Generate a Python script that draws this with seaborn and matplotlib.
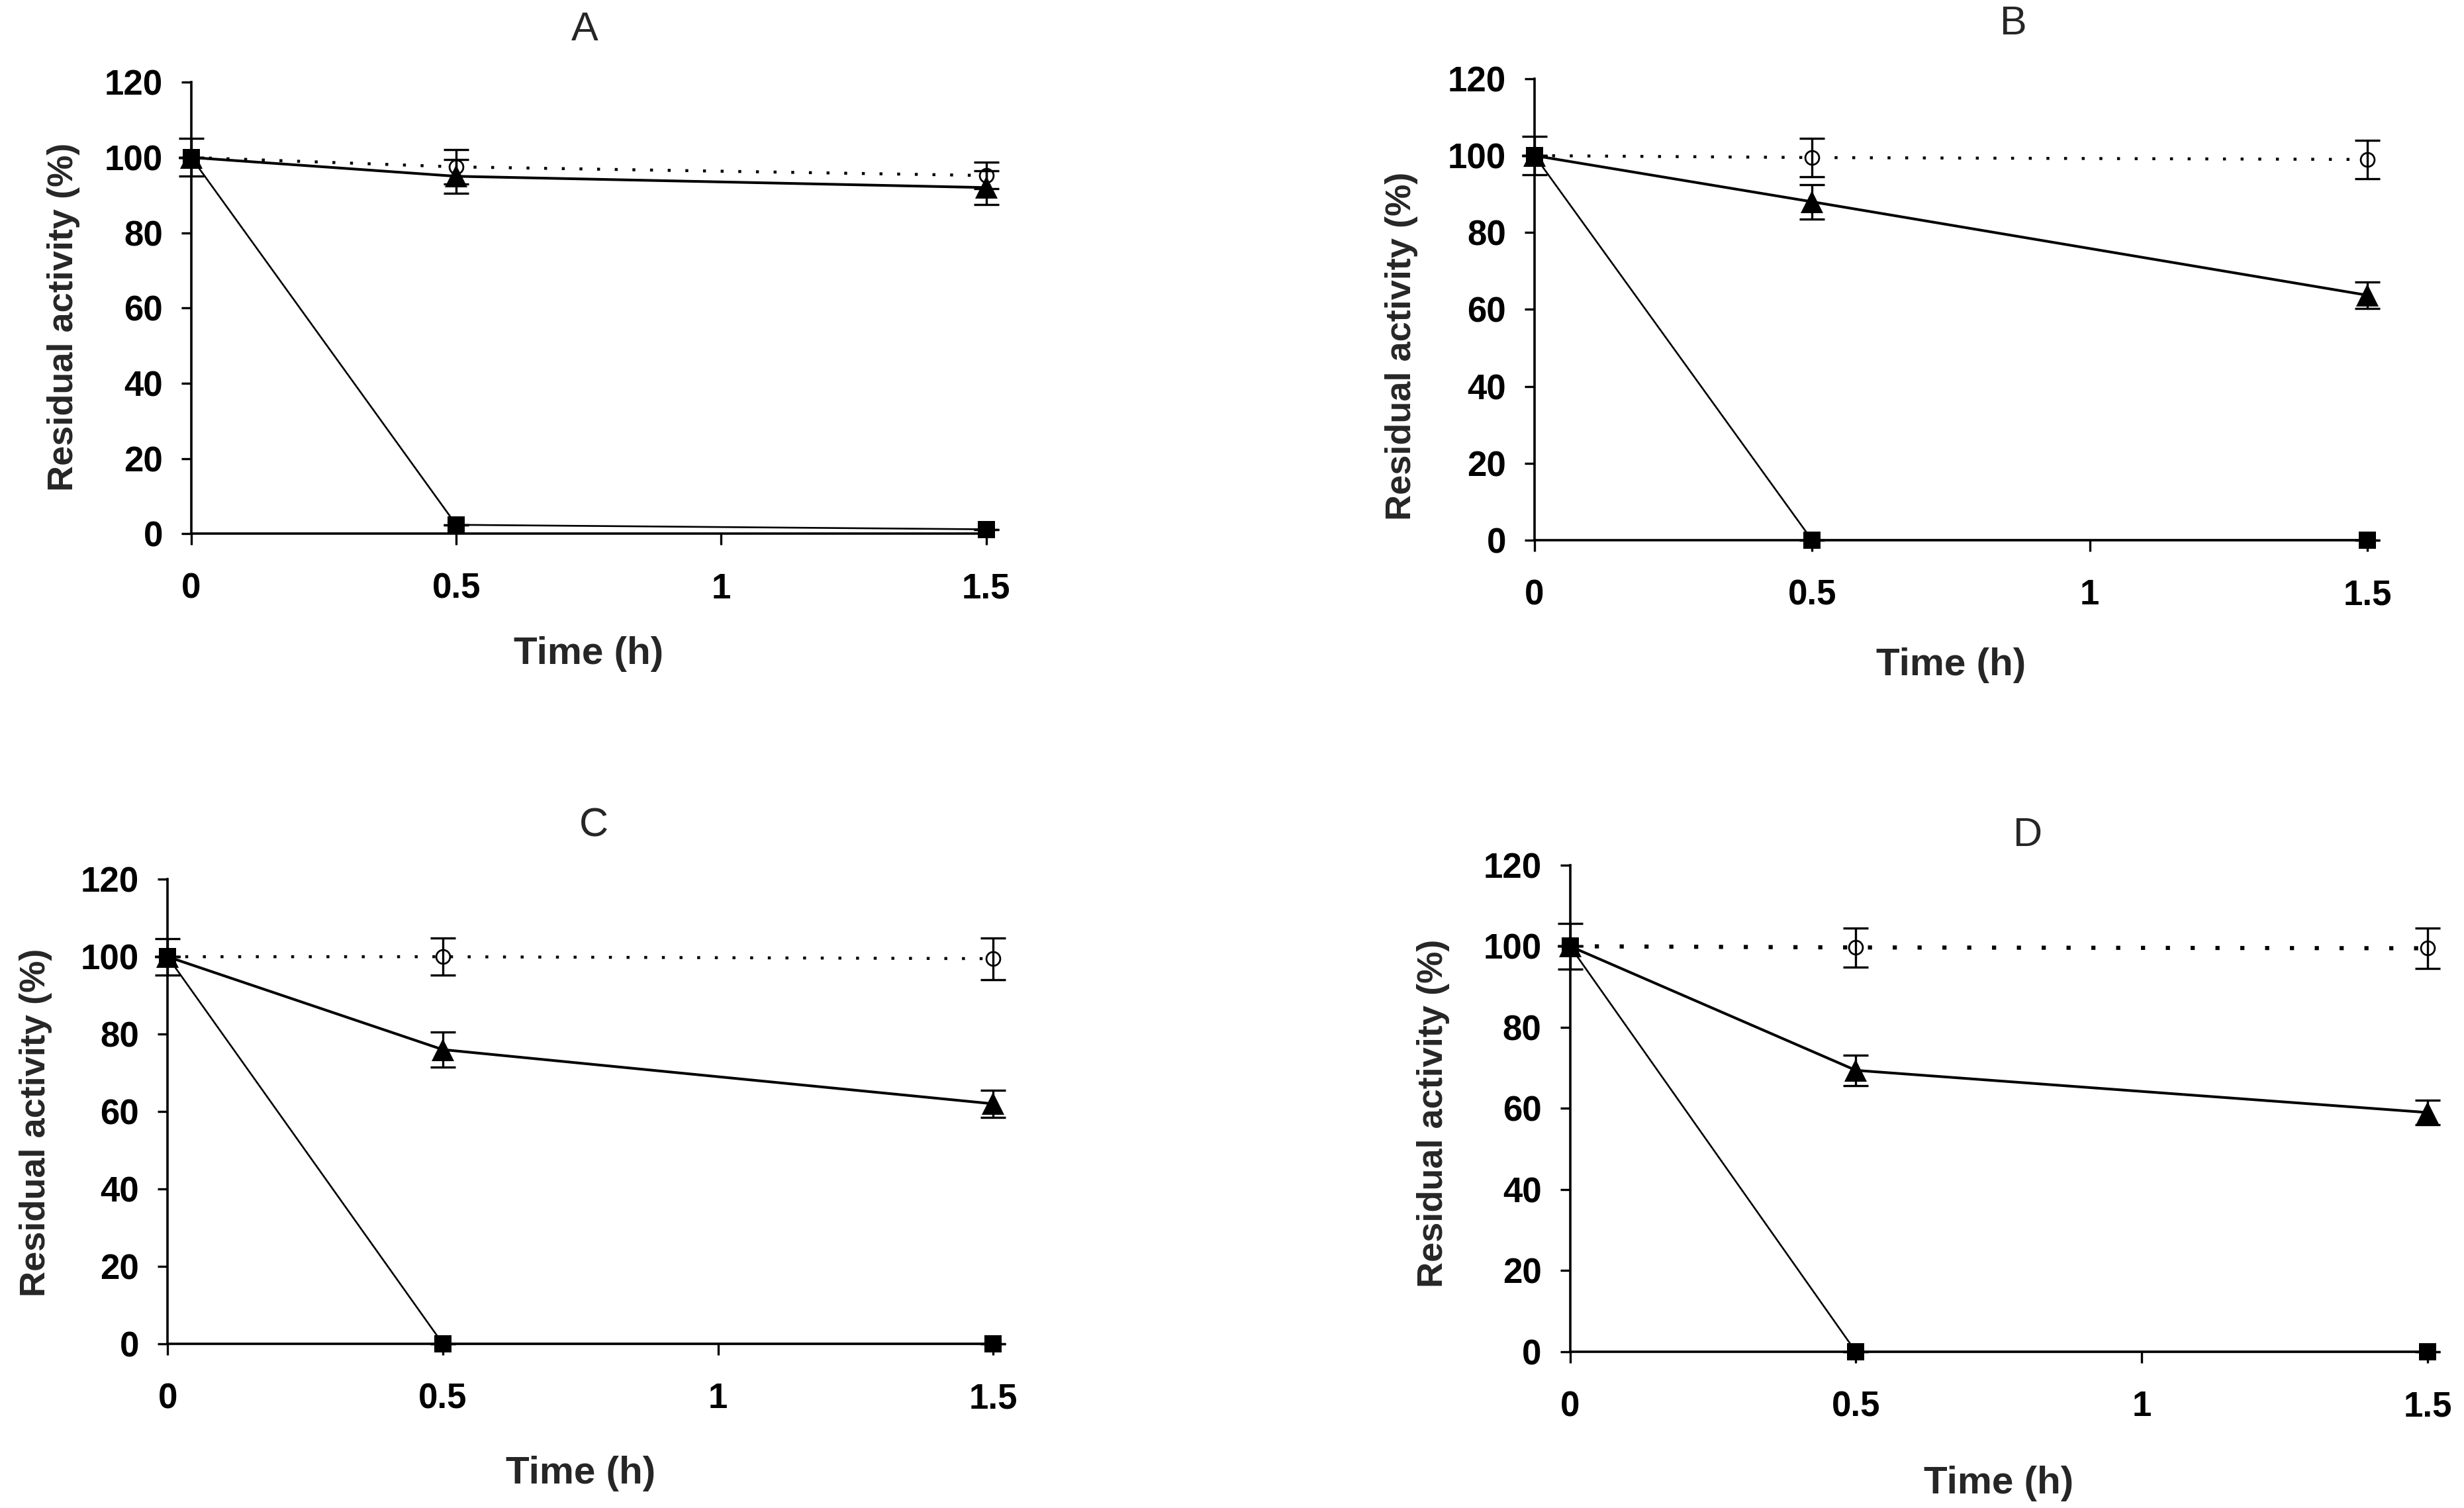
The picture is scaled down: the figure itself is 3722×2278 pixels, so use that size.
"""Residual activity over time, four panels (A-D)."""
import matplotlib
matplotlib.use("Agg")
import matplotlib.pyplot as plt
import pandas as pd
import seaborn as sns

# --- data ------------------------------------------------------------------
time_h = [0, 0.5, 1.5]
panels = ["A", "B", "C", "D"]

circle_vals = {"A": [100, 97.5, 95.2], "B": [100, 99.5, 99.0],
               "C": [100, 100.0, 99.5], "D": [100, 99.7, 99.5]}
circle_err = {"A": [0, 4.5, 3.5], "B": [0, 5.0, 5.0],
              "C": [0, 4.8, 5.4], "D": [0, 4.8, 5.0]}

tri_vals = {"A": [100, 95.0, 92.0], "B": [100, 88.0, 63.7],
            "C": [100, 76.0, 62.0], "D": [100, 69.4, 59.0]}
tri_err = {"A": [0, 4.5, 4.5], "B": [0, 4.5, 3.5],
           "C": [0, 4.5, 3.5], "D": [0, 3.7, 3.0]}

sq_vals = {"A": [100, 2.4, 1.2], "B": [100, 0, 0],
           "C": [100, 0, 0], "D": [100, 0, 0]}
sq_err = {"A": [5.0, 0, 0], "B": [5.0, 0, 0],
          "C": [4.7, 0, 0], "D": [5.6, 0, 0]}

x_ticks = [0, 0.5, 1, 1.5]
x_tick_labels = ["0", "0.5", "1", "1.5"]
y_ticks = [0, 20, 40, 60, 80, 100, 120]

# axes rectangles (fig fraction) and text positions (axes fraction)
rects = {"A": [0.0776, 0.646, 0.3225, 0.2995],
         "B": [0.6226, 0.6418, 0.3379, 0.306],
         "C": [0.068, 0.1089, 0.335, 0.308],
         "D": [0.637, 0.1036, 0.348, 0.3227]}
title_pos = {"A": (0.495, 1.115), "B": (0.575, 1.118),
             "C": (0.516, 1.115), "D": (0.534, 1.06)}
ylabel_y = {"A": 0.48, "B": 0.42, "C": 0.476, "D": 0.49}
xlabel_y = {"A": -0.227, "B": -0.233, "C": -0.241, "D": -0.234}

sns.set_style("ticks")
plt.rcParams["font.family"] = ["Liberation Sans", "DejaVu Sans"]

fig = plt.figure(figsize=(37.23, 22.78), dpi=100)

for p in panels:
    ax = fig.add_axes(rects[p])
    df_c = pd.DataFrame({"t": time_h, "v": circle_vals[p]})
    df_t = pd.DataFrame({"t": time_h, "v": tri_vals[p]})
    df_s = pd.DataFrame({"t": time_h, "v": sq_vals[p]})

    dot_lw = 4.5 if p == "D" else 3.2
    sns.lineplot(data=df_c, x="t", y="v", ax=ax, color="black", lw=dot_lw,
                 linestyle=(0, (1, 5)), marker="o", markersize=15,
                 markerfacecolor="white", markeredgecolor="black",
                 markeredgewidth=2.0, clip_on=False, zorder=3)
    ax.errorbar(time_h, circle_vals[p], yerr=circle_err[p], fmt="none",
                ecolor="black", elinewidth=2.4, capsize=14, capthick=2.4,
                clip_on=False, zorder=3)

    sns.lineplot(data=df_t, x="t", y="v", ax=ax, color="black", lw=2.9,
                 marker="^", markersize=25, markeredgewidth=0,
                 clip_on=False, zorder=4)
    ax.errorbar(time_h, tri_vals[p], yerr=tri_err[p], fmt="none",
                ecolor="black", elinewidth=2.4, capsize=14, capthick=2.4,
                clip_on=False, zorder=4)

    sns.lineplot(data=df_s, x="t", y="v", ax=ax, color="black", lw=1.9,
                 marker="s", markersize=19, markeredgewidth=0,
                 clip_on=False, zorder=5)
    ax.errorbar(time_h, sq_vals[p], yerr=sq_err[p], fmt="none",
                ecolor="black", elinewidth=2.4, capsize=14, capthick=2.4,
                clip_on=False, zorder=5)

    ax.set_xlim(0, 1.5)
    ax.set_ylim(0, 120)
    ax.set_xticks(x_ticks)
    ax.set_xticklabels(x_tick_labels)
    ax.set_yticks(y_ticks)
    ax.tick_params(axis="both", direction="out", width=2.4, color="black",
                   labelsize=38, labelcolor="black")
    ax.tick_params(axis="x", length=12, pad=30)
    ax.tick_params(axis="y", length=11, pad=20)
    for lab in ax.get_xticklabels() + ax.get_yticklabels():
        lab.set_fontweight("bold")
    sns.despine(ax=ax)
    for side in ("left", "bottom"):
        ax.spines[side].set_linewidth(2.6)
        ax.spines[side].set_color("black")

    ax.set_xlabel("Time (h)", fontsize=42, fontweight="bold")
    ax.set_ylabel("Residual activity (%)", fontsize=39, fontweight="bold")
    ax.xaxis.set_label_coords(0.5, xlabel_y[p])
    ax.yaxis.set_label_coords(-0.14, ylabel_y[p])
    ax.text(*title_pos[p], p, transform=ax.transAxes, ha="center",
            va="center", fontsize=44)

fig.savefig("out.png", dpi=100, facecolor="white")
